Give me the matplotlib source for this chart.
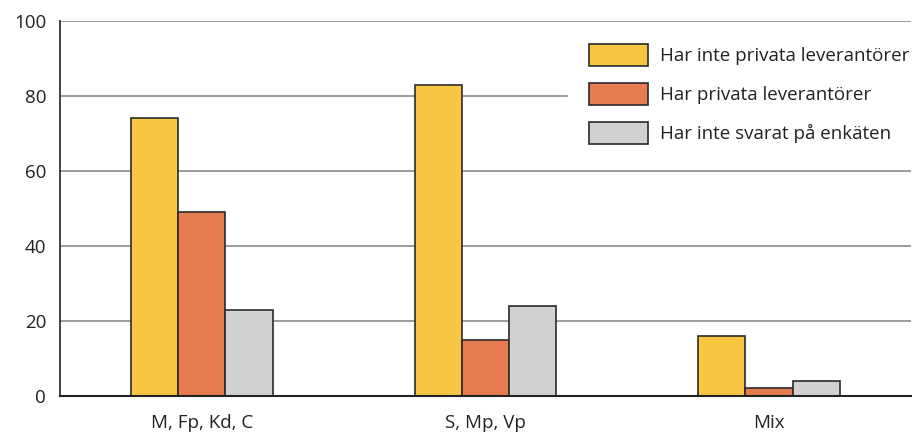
import matplotlib
matplotlib.use('Agg')
import matplotlib.pyplot as plt
import numpy as np

# DATA
categories = ['M, Fp, Kd, C', 'S, Mp, Vp', 'Mix']
series_labels = ['Har inte privata leverantörer', 'Har privata leverantörer',
                 'Har inte svarat på enkäten']
no_private = [74, 83, 16]
private = [49, 15, 2]
no_answer = [23, 24, 4]
yticks = [0, 20, 40, 60, 80, 100]

colors = ['#F7C744', '#E67C4F', '#D0D2D0']

plt.rcParams['font.family'] = ['Open Sans', 'DejaVu Sans']
fs = 13.5

fig = plt.figure(figsize=(9.22, 4.43), dpi=100)
ax = fig.add_axes([0.0651, 0.1061, 0.9229, 0.8465])

x = np.arange(len(categories))
w = 1 / 6
for i, (vals, lab) in enumerate(zip([no_private, private, no_answer], series_labels)):
    ax.bar(x + (i - 1) * w, vals, w, color=colors[i], edgecolor='#2a2a2a',
           linewidth=1.2, label=lab, zorder=3)

ax.set_xlim(-0.5, 2.5)
ax.set_ylim(0, 100)
ax.set_yticks(yticks)
ax.set_xticks(x)
ax.set_xticklabels(categories)
ax.tick_params(axis='both', length=0, labelsize=fs, colors='#222222', pad=10)
ax.tick_params(axis='x', pad=13)
for t in yticks[1:]:
    ax.axhline(t, color='#808080', lw=1.1, zorder=1)

for s in ['top', 'right']:
    ax.spines[s].set_visible(False)
ax.spines['left'].set_color('#222222')
ax.spines['bottom'].set_color('#222222')
ax.spines['left'].set_linewidth(1.2)
ax.spines['bottom'].set_linewidth(1.5)
ax.spines['left'].set_zorder(4)
ax.spines['bottom'].set_zorder(4)

leg = ax.legend(loc='upper left', bbox_to_anchor=(568 / 922, 1 - 23 / 443),
                bbox_transform=fig.transFigure, frameon=True,
                facecolor='white', edgecolor='white', framealpha=1, fancybox=False,
                fontsize=fs, handlelength=3.15, handleheight=1.45, labelspacing=0.9,
                handletextpad=0.65, borderpad=1.1, borderaxespad=0)
leg.set_zorder(5)
for t in leg.get_texts():
    t.set_color('#222222')

plt.savefig('out.png', dpi=100)
